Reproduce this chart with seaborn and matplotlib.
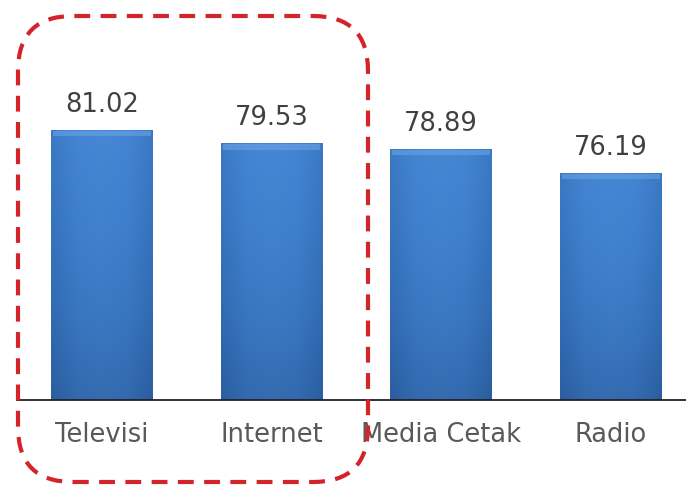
import numpy as np
import pandas as pd
import matplotlib
matplotlib.use("Agg")
import matplotlib.pyplot as plt
import seaborn as sns
from matplotlib.patches import FancyBboxPatch
from matplotlib.colors import LinearSegmentedColormap

categories = ["Televisi", "Internet", "Media Cetak", "Radio"]
values = [81.02, 79.53, 78.89, 76.19]
value_labels = ["81.02", "79.53", "78.89", "76.19"]

sns.set_style("white")
plt.rcParams['font.family'] = ['DejaVu Sans']

W, H = 686, 488
fig = plt.figure(figsize=(W / 100, H / 100), dpi=100)
fig.patch.set_facecolor("white")
ax = fig.add_axes([17 / W, 88 / H, (W - 17) / W, 400 / H])

df = pd.DataFrame({"cat": categories, "val": values})
sns.barplot(data=df, x="cat", y="val", color="#3e7dca", width=0.6,
            saturation=1, ax=ax, zorder=2)

ymin = 50.7
ax.set_xlim(-0.5, -0.5 + (W - 17) / 169.7)
ax.set_ylim(ymin, ymin + 400 / 8.9)

# gradient fill on each bar (visible part only)
cmap = LinearSegmentedColormap.from_list(
    "bg", ["#2b5c9c", "#3570b8", "#3d7dca", "#4586d4"])
hcmap = LinearSegmentedColormap.from_list(
    "hg", ["#2c62a6", "#4283d2", "#4a8bd8", "#4283d2", "#2c62a6"])
grad = np.linspace(0, 1, 256).reshape(-1, 1)
hx = np.linspace(0, 1, 256).reshape(1, -1)
for p in ax.patches:
    x0 = p.get_x()
    w, top = p.get_width(), p.get_y() + p.get_height()
    ax.imshow(grad, extent=[x0, x0 + w, ymin, top], origin="lower",
              cmap=cmap, aspect="auto", zorder=2.1)
    ax.imshow(hx, extent=[x0, x0 + w, ymin, top], cmap=hcmap,
              aspect="auto", zorder=2.15, alpha=0.35)
    ax.fill_between([x0 + 0.012, x0 + w - 0.012], top - 0.7, top - 0.05,
                    color="#6ea6e6", alpha=0.55, zorder=2.2, linewidth=0)

ax.set_xlim(-0.5, -0.5 + (W - 17) / 169.7)
ax.set_ylim(ymin, ymin + 400 / 8.9)

for i, (v, lab) in enumerate(zip(values, value_labels)):
    ax.annotate(lab, (i, v), xytext=(0, 9), textcoords="offset points",
                ha="center", va="bottom", fontsize=18.5, color="#404040")

ax.set_xlabel("")
ax.set_ylabel("")
ax.set_yticks([])
ax.tick_params(axis="x", length=0, pad=16, labelsize=18.5, labelcolor="#595959")
for s in ["top", "right", "left"]:
    ax.spines[s].set_visible(False)
ax.spines["bottom"].set_color("#222222")
ax.spines["bottom"].set_linewidth(1.3)
ax.spines["bottom"].set_zorder(3)
ax.set_facecolor("none")

# dashed rounded highlight box (figure pixels)
box = FancyBboxPatch((18 / W, 6 / H), 350 / W, 466 / H,
                     boxstyle="round,pad=0,rounding_size=0.08",
                     transform=fig.transFigure, fill=False,
                     edgecolor="#d3242b", linewidth=3.0,
                     linestyle=(0, (3.8, 2.5)), zorder=10,
                     mutation_aspect=W / H)
fig.patches.append(box)

fig.savefig("out.png", dpi=100)
